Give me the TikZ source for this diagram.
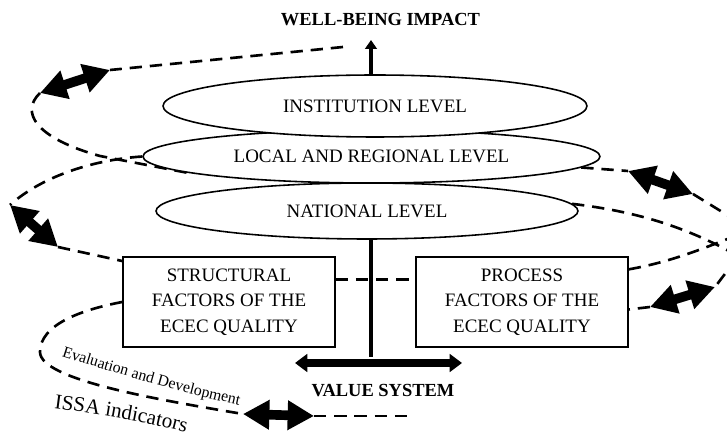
\documentclass[tikz,border=0pt]{standalone}
\usepackage{fontspec}
\setmainfont{Liberation Serif}
\usetikzlibrary{shapes.geometric,arrows.meta,decorations.text}
\pgfdeclarelayer{back}
\pgfsetlayers{back,main}

\begin{document}
\begin{tikzpicture}[x=0.02cm,y=-0.02cm,
        level/.style={shape=ellipse,draw=black,fill=white,line width=0.9pt,inner sep=0pt,font=\fontsize{10.8}{13}\selectfont},
        factor/.style={shape=rectangle,draw=black,fill=white,line width=0.9pt,minimum width=4.24cm,minimum height=1.8cm,align=center,font=\fontsize{10.8}{14.5}\selectfont},
        caption/.style={font=\bfseries\fontsize{10.5}{12}\selectfont},
        spiral/.style={line width=1.5pt,dash pattern=on 7pt off 4.5pt},
        twoway/.style={line width=5.5pt,{Triangle[length=15pt,width=16pt]}-{Triangle[length=15pt,width=16pt]}}]
        \useasboundingbox (0,0) rectangle (727,435);

        \node[level,minimum width=8.44cm,minimum height=1.12cm] (national) at (367,211) {NATIONAL LEVEL};
        \node[level,minimum width=9.14cm,minimum height=1.06cm] (local) at (371.5,156.5) {LOCAL AND REGIONAL LEVEL};
        \node[level,minimum width=8.48cm,minimum height=1.24cm] (institution) at (375,106) {INSTITUTION LEVEL};

        \node[factor] (structural) at (229,302) {STRUCTURAL\\FACTORS OF THE\\ECEC QUALITY};
        \node[factor] (process) at (522,302) {PROCESS\\FACTORS OF THE\\ECEC QUALITY};

        \node[caption] (impact) at (380.5,20) {WELL-BEING IMPACT};
        \node[caption] (values) at (383,391) {VALUE SYSTEM};

        \coordinate (top) at (371,40);
        \coordinate (stem) at (371,357);
        \coordinate (leftend) at (295,363);
        \coordinate (rightend) at (462,363);
        \coordinate (tail) at (343,47);
        \coordinate (head) at (410,416);
        \coordinate (a1l) at (40,93);
        \coordinate (a1r) at (110,70);
        \coordinate (a2l) at (628,171);
        \coordinate (a2r) at (693,194);
        \coordinate (a3l) at (650,307);
        \coordinate (a3r) at (715,287);
        \coordinate (a4t) at (10,205);
        \coordinate (a4b) at (58,247);
        \coordinate (a5l) at (243,414);
        \coordinate (a5r) at (314,416);
        \coordinate (out1) at (745,226);
        \coordinate (out2) at (737,258);
        \coordinate (out3) at (745,260);
        \coordinate (out4) at (745,232);

        % dashed spiral and the axis, kept under the ellipses
        \begin{pgfonlayer}{back}
        \draw[spiral] (tail) -- (a1r);
        \draw[spiral] (a1l) .. controls (20,112) and (35,138) .. (100,156) -- (local.185);
        \draw[spiral] (local.west) .. controls (90,160) and (40,178) .. (a4t);
        \draw[spiral] (a4b) -- (structural.159);
        \draw[spiral] (structural.west) .. controls (80,310) and (40,325) .. (40,352)
            .. controls (40,380) and (160,400) .. (a5l);
        \draw[spiral] (a5r) -- (head);
        \draw[spiral] (structural.12) -- (process.168);
        \draw[spiral] (local.-3) -- (a2l);
        \draw[spiral] (a2r) -- (out1);
        \draw[spiral] (out2) -- (a3r);
        \draw[spiral] (a3l) -- (process.-4);
        \draw[spiral] (national.2) .. controls (640,212) and (690,228) .. (out3);
        \draw[spiral] (process.17) .. controls (670,262) and (700,250) .. (out4);
        \draw[line width=2.5pt,-{Triangle[length=5pt,width=6.5pt]}] (stem) -- (top);
        \end{pgfonlayer}

        \draw[line width=4pt,{Triangle[length=7pt,width=10pt]}-{Triangle[length=7pt,width=10pt]}] (leftend) -- (rightend);
        \draw[twoway] (a1l) -- (a1r);
        \draw[twoway] (a2l) -- (a2r);
        \draw[twoway] (a3l) -- (a3r);
        \draw[twoway] (a4t) -- (a4b);
        \draw[twoway] (a5l) -- (a5r);

        \path[decorate,decoration={text along path,text align=center,
            text={|\fontsize{9}{10}\selectfont|Evaluation and Development}}]
            (58,355) .. controls (110,372) and (190,395) .. (243,406);
        \path[decorate,decoration={text along path,text align=center,
            text={|\fontsize{12}{14}\selectfont|ISSA indicators}}]
            (53,408) .. controls (100,414) and (150,423) .. (187,433);
    \end{tikzpicture}
\end{document}
